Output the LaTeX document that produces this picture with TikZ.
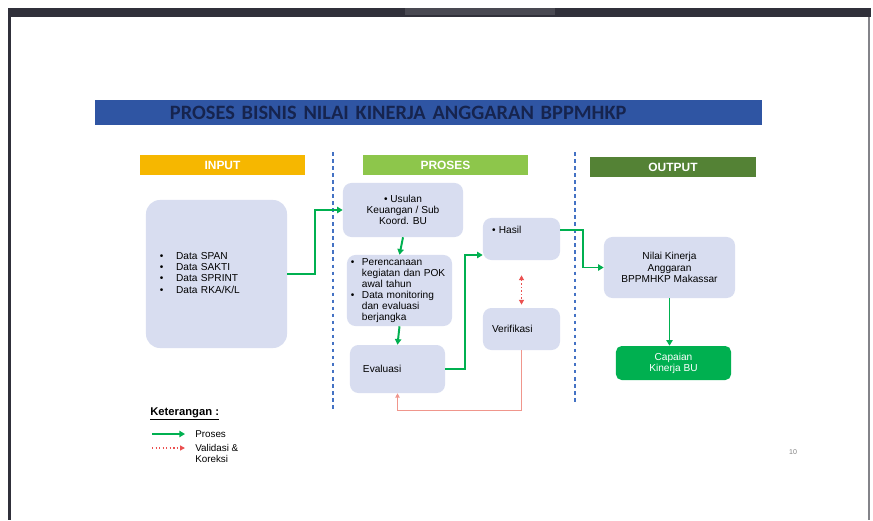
\documentclass[tikz,border=0pt]{standalone}
\usepackage{fontspec}
\setmainfont{Liberation Sans}
\newfontfamily\titlefont{Carlito}
\usepackage{xcolor}
\usepackage{tikz}
\usetikzlibrary{arrows.meta, positioning, calc}
\definecolor{TitleBlue}{RGB}{47, 85, 163}
\definecolor{TitleText}{RGB}{22, 36, 78}
\definecolor{InputGold}{RGB}{246, 183, 0}
\definecolor{ProsesGreen}{RGB}{141, 198, 75}
\definecolor{OutputGreen}{RGB}{84, 130, 53}
\definecolor{BoxFill}{RGB}{216, 221, 240}
\definecolor{FlowGreen}{RGB}{0, 176, 80}
\definecolor{SplitBlue}{RGB}{68, 114, 196}
\definecolor{CheckRed}{RGB}{235, 80, 80}
\definecolor{ReturnRed}{RGB}{240, 150, 140}
\definecolor{FrameDark}{RGB}{48, 48, 58}
\newcommand{\bulletmark}{\makebox[7.8pt][l]{\textbullet}}
\newcommand{\bulletgap}{\hspace*{7.8pt}}

\begin{document}
\begin{tikzpicture}[x=0.025cm, y=-0.025cm,
    header/.style={text=white, font=\fontsize{8.5}{10}\selectfont\bfseries,
      minimum height=0.5cm, inner sep=0pt},
    card/.style={fill=BoxFill, rounded corners=6pt, font=\fontsize{7.2}{8}\selectfont, inner sep=2pt},
    flow/.style={FlowGreen, line width=1.4pt, -{Triangle[length=4pt, width=4.5pt]}},
    check/.style={CheckRed, line width=1pt, dash pattern=on 1pt off 1.5pt,
      {Triangle[length=3.5pt, width=3.5pt]}-{Triangle[length=3.5pt, width=3.5pt]}},
    returnline/.style={ReturnRed, line width=0.8pt, -{Triangle[length=3pt, width=3pt]}},
    divider/.style={SplitBlue, line width=1pt, dash pattern=on 2.5pt off 2.5pt},
    legendtext/.style={font=\fontsize{7}{8}\selectfont, inner sep=0pt, align=left}]

  % page and window frame
  \fill[white] (0,0) rectangle (873,520);
  \useasboundingbox (0,0) rectangle (873,520);
  \fill[FrameDark] (8,8) rectangle (871,17);
  \fill[FrameDark!88!white] (405,8) rectangle (555,15);
  \fill[FrameDark] (8,8) rectangle (11,520);
  \fill[FrameDark!60!white] (868,17) rectangle (870,520);

  % title
  \node[fill=TitleBlue, minimum width=16.675cm, minimum height=0.625cm, text width=12.925cm,
        inner xsep=1.875cm, inner ysep=0pt, align=left, text=TitleText,
        font=\titlefont\fontsize{14.5}{16}\selectfont\bfseries] (title) at (428.5,112.5)
        {PROSES BISNIS NILAI KINERJA ANGGARAN BPPMHKP};

  % column headers
  \node[header, fill=InputGold, minimum width=4.125cm] (input) at (222.5,165) {INPUT};
  \node[header, fill=ProsesGreen, minimum width=4.125cm] (proses) at (445.5,165) {PROSES};
  \node[header, fill=OutputGreen, minimum width=4.15cm] (output) at (673,167) {OUTPUT};

  \draw[divider] (333,152) -- (333,410);
  \draw[divider] (575,152) -- (575,405);

  % input
  \node[card, rounded corners=10pt, minimum width=3.525cm, minimum height=3.7cm,
        text width=2.825cm, inner xsep=0.35cm, align=left] (data) at (216.5,274) {%
    \begin{tabular}{@{}l@{\hspace{9pt}}l@{}}
      \textbullet & Data SPAN\\
      \textbullet & Data SAKTI\\
      \textbullet & Data SPRINT\\
      \textbullet & Data RKA/K/L
    \end{tabular}};

  % proses
  \node[card, minimum width=3cm, minimum height=1.35cm, align=center] (usulan) at (403,210)
    {\textbullet\ Usulan\\Keuangan / Sub\\Koord. BU};
  \node[card, minimum width=2.625cm, minimum height=1.775cm, text width=2.425cm,
        inner xsep=0.1cm, align=left, font=\fontsize{7.2}{7.8}\selectfont] (rencana) at (399.5,290.5) {%
    \bulletmark Perencanaan\\
    \bulletgap kegiatan dan POK\\
    \bulletgap awal tahun\\
    \bulletmark Data monitoring\\
    \bulletgap dan evaluasi\\
    \bulletgap berjangka};
  \node[card, minimum width=2.375cm, minimum height=1.2cm, text width=1.725cm,
        inner xsep=0.325cm, align=left] (evaluasi) at (397.5,369) {Evaluasi};
  \node[card, minimum width=1.925cm, minimum height=1.05cm, text width=1.475cm,
        inner xsep=0.225cm, align=left, text height=0.2cm, text depth=0.49cm] (hasil) at (521.5,239)
    {\textbullet\ Hasil};
  \node[card, minimum width=1.925cm, minimum height=1.05cm, text width=1.475cm,
        inner xsep=0.225cm, align=left] (verifikasi) at (521.5,329) {Verifikasi};

  % output
  \node[card, minimum width=3.275cm, minimum height=1.525cm, align=center] (nilai) at (669.5,267.5)
    {Nilai Kinerja\\Anggaran\\BPPMHKP Makassar};
  \node[card, fill=FlowGreen, text=white, rounded corners=4pt, minimum width=2.875cm,
        minimum height=0.85cm, align=center] (capaian) at (673.5,363) {Capaian\\Kinerja BU};

  % connectors
  \draw[flow] (data.east) -- ++(28,0) |- (usulan.west);
  \draw[flow] (usulan.south) -- (rencana.north);
  \draw[flow] (rencana.south) -- (evaluasi.north);
  \draw[flow] (evaluasi.east) -- ++(20,0) |- ([yshift=-0.4cm]hasil.west);
  \draw[flow] ([yshift=0.225cm]hasil.east) -- ++(23,0) |- (nilai.west);
  \draw[flow] (nilai.south) -- (nilai.south |- capaian.north);
  \draw[check] ([yshift=-0.375cm]hasil.south) -- ([yshift=0.075cm]verifikasi.north);
  \draw[returnline] (verifikasi.south) -- ++(0,60) -| (evaluasi.south);

  % legend
  \node[font=\fontsize{8}{9}\selectfont\bfseries, anchor=west, inner sep=0pt] (keterangan) at (150,414)
    {\underline{Keterangan :}};
  \coordinate (prosesA) at (152,434);
  \coordinate (prosesB) at (185,434);
  \draw[flow, line width=1pt] (prosesA) -- (prosesB);
  \node[legendtext, anchor=west] (legproses) at (195,434) {Proses};
  \coordinate (validasiA) at (152,448);
  \coordinate (validasiB) at (185,448);
  \draw[CheckRed, line width=1pt, dash pattern=on 1pt off 1.5pt,
        -{Triangle[length=3.5pt, width=3.5pt]}] (validasiA) -- (validasiB);
  \node[legendtext, anchor=north west] (legvalidasi) at (195,444) {Validasi \&\\Koreksi};

  \node[font=\fontsize{5}{6}\selectfont, text=gray] (halaman) at (793,452) {10};
\end{tikzpicture}
\end{document}
